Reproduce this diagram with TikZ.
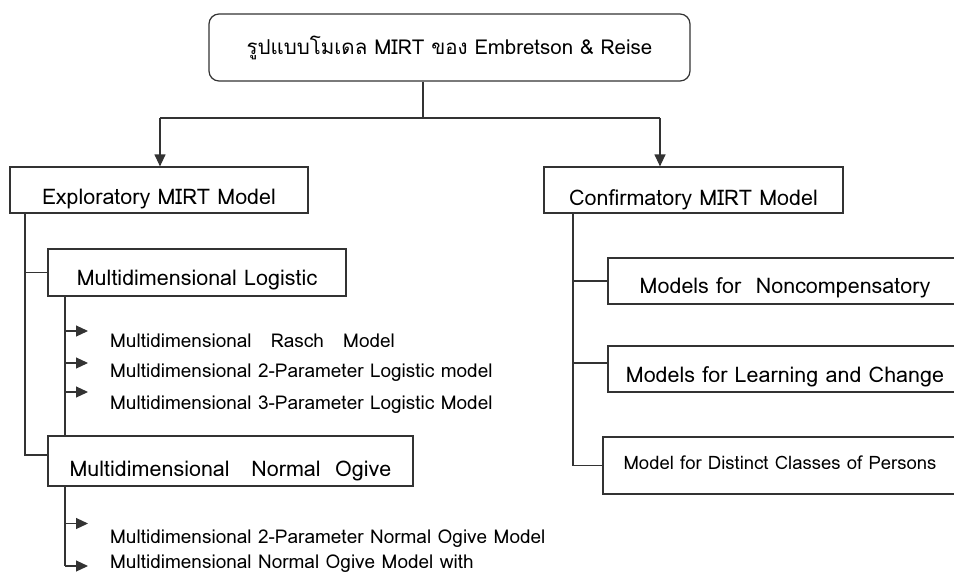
\documentclass[tikz,border=0pt]{standalone}
\usepackage{fontspec}
\setmainfont[Script=Thai]{Loma}
\usetikzlibrary{arrows.meta}
\tikzset{
  ln/.style={draw=black!80, line width=1.2pt},
  box/.style={ln, inner sep=0pt, text depth=0pt, text height=28pt, font=\fontsize{21.5}{25}\selectfont},
  arr/.style={ln, -{Triangle[length=12pt,width=11pt]}},
  item/.style={anchor=base west, inner sep=0pt, font=\fontsize{19}{22}\selectfont},
}
\begin{document}
\begin{tikzpicture}[x=1pt,y=-1pt]
\useasboundingbox (0,0) rectangle (954,571);
\clip (0,0) rectangle (954,571);
% top
\node[box, rounded corners=10pt, minimum width=481, minimum height=67, text height=13pt, font=\fontsize{20.5}{24}\selectfont] (title) at (449.5,47.5) {รูปแบบโมเดล MIRT ของ Embretson \& Reise};
\node[box, minimum width=298, minimum height=46] (expl) at (159,190) {Exploratory MIRT Model};
\node[box, minimum width=299, minimum height=46, text height=30pt] (conf) at (693.5,190) {Confirmatory MIRT Model};
\coordinate (split) at (423,118);
\coordinate (lt) at (160,118);
\coordinate (rt) at (660,118);
\draw[ln] (title.south -| split) -- (split);
\draw[ln] (lt) -- (rt);
\draw[arr] (lt) -- (lt |- expl.north);
\draw[arr] (rt) -- (rt |- conf.north);
% left side
\node[box, minimum width=298, minimum height=47, text height=25pt] (logi) at (197,272.5) {Multidimensional Logistic};
\node[box, minimum width=365, minimum height=50, text height=30pt] (ogive) at (230.5,461) {Multidimensional\ \ \ Normal\ \ Ogive};
\coordinate (ltr) at (25,0);
\coordinate (sub) at (65,0);
\draw[ln] (expl.south -| ltr) -- (ltr |- 0,455) -- (ogive.west |- 0,455);
\draw[ln] (ltr |- logi.west) -- (logi.west);
\draw[ln] (logi.south -| sub) -- (ogive.north -| sub);
\node[item] (m1) at (110,347) {Multidimensional\ \ \ Rasch\ \ \ Model};
\node[item] (m2) at (110,377) {Multidimensional 2-Parameter Logistic model};
\node[item] (m3) at (110,409) {Multidimensional 3-Parameter Logistic Model};
\coordinate (a1) at (88,331);
\coordinate (a2) at (88,363);
\coordinate (a3) at (88,392);
\draw[arr] (sub |- a1) -- (a1);
\draw[arr] (sub |- a2) -- (a2);
\draw[arr] (sub |- a3) -- (a3);
\node[item] (n1) at (110,543.5) {Multidimensional 2-Parameter Normal Ogive Model};
\node[item] (n2) at (110,568) {Multidimensional Normal Ogive Model with};
\coordinate (b1) at (88,523.5);
\coordinate (b2) at (88,566);
\draw[ln] (ogive.south -| sub) -- (sub |- b2);
\draw[arr] (sub |- b1) -- (b1);
\draw[arr] (sub |- b2) -- (b2);
% right side
\node[box, minimum width=354, minimum height=46, text height=24pt] (nonc) at (785,281) {Models for\ \ Noncompensatory};
\node[box, minimum width=354, minimum height=46, text height=26pt] (learn) at (785,369) {Models for Learning and Change};
\node[box, minimum width=354, minimum height=57, text height=7pt, font=\fontsize{18.5}{22}\selectfont] (dist) at (780,465.5) {Model for Distinct Classes of Persons};
\coordinate (rtr) at (573,0);
\coordinate (c2) at (573,363);
\draw[ln] (conf.south -| rtr) -- (rtr |- dist.west) -- (dist.west);
\draw[ln] (rtr |- nonc.west) -- (nonc.west);
\draw[ln] (c2) -- (c2 -| learn.west);
\end{tikzpicture}
\end{document}
